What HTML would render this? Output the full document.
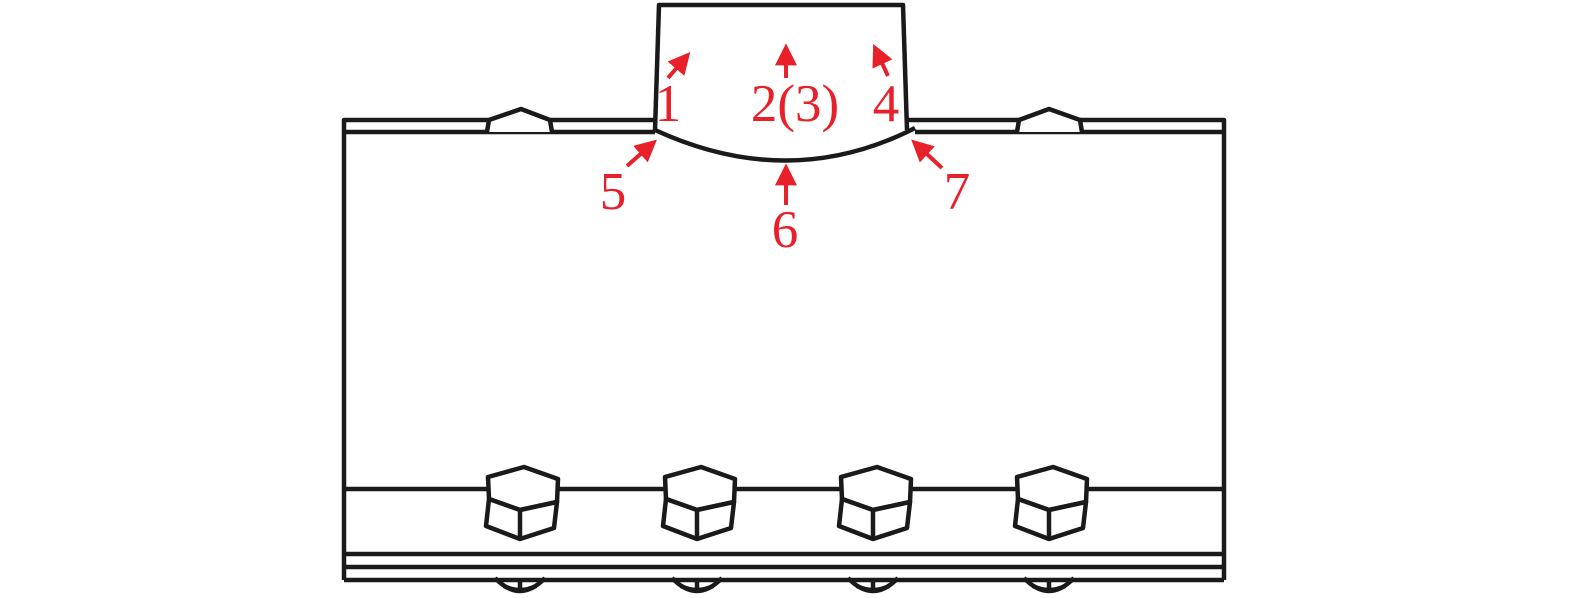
<!DOCTYPE html>
<html><head><meta charset="utf-8"><style>
html,body{margin:0;padding:0;background:#fff;}
svg{display:block;}
text{font-family:"Liberation Serif",serif;fill:#e8202a;font-size:53px;text-anchor:middle;}
</style></head><body>
<svg width="1575" height="598" viewBox="0 0 1575 598" xmlns="http://www.w3.org/2000/svg">
<defs>
<marker id="ah" viewBox="0 0 10 10" refX="7" refY="5" markerWidth="5.5" markerHeight="5.5" orient="auto" markerUnits="strokeWidth">
<path d="M0,0 L10,5 L0,10 z" fill="#e8202a"/></marker>
<g id="bolt" fill="#fff" stroke="#1a1a1a" stroke-width="4.5" stroke-linejoin="round">
<polygon points="-32,-43 4,-53 38,-41 37,-18 0,-10 -31,-21"/>
<polygon points="-31,-21 0,-10 37,-18 34,8 0,19 -34,6"/>
<line x1="0" y1="-10" x2="0" y2="19"/>
</g>
<g id="nut" fill="none" stroke="#1a1a1a" stroke-width="4.5">
<path d="M-25,578 Q0,604 25,578"/>
<path d="M-16,586 Q0,594 16,586"/>
<line x1="0" y1="578" x2="0" y2="592"/>
</g>
</defs>
<g fill="none" stroke="#1a1a1a" stroke-width="4.5" stroke-linejoin="round">
<polyline points="344,580 344,120 655,120"/>
<line x1="344" y1="132" x2="655" y2="132"/>
<polyline points="907,120 1224,120 1224,580"/>
<line x1="915" y1="132" x2="1224" y2="132"/>
<polyline points="487,132 489,120 521,109 550,120 552,132" fill="#fff"/>
<polyline points="1017,132 1019,120 1049,109 1080,120 1082,132" fill="#fff"/>
<path d="M655,130 L659,5 L903,5 L907,130" fill="#fff"/>
<path d="M655,130 Q785,190 907,132 L915,128"/>
<line x1="344" y1="489" x2="1224" y2="489"/>
<line x1="344" y1="554" x2="1224" y2="554"/>
<line x1="344" y1="567" x2="1224" y2="567"/>
<line x1="344" y1="580" x2="1224" y2="580"/>
</g>
<use href="#nut" x="520"/><use href="#nut" x="697"/><use href="#nut" x="873"/><use href="#nut" x="1049"/>
<use href="#bolt" x="520" y="520"/><use href="#bolt" x="697" y="520"/><use href="#bolt" x="873" y="520"/><use href="#bolt" x="1049" y="520"/>
<g stroke="#e8202a" stroke-width="4" marker-end="url(#ah)">
<line x1="668" y1="78" x2="686" y2="57"/>
<line x1="786" y1="78" x2="786" y2="50"/>
<line x1="888" y1="76" x2="876" y2="50"/>
<line x1="627" y1="166" x2="652" y2="144"/>
<line x1="786" y1="205" x2="786" y2="170"/>
<line x1="942" y1="168" x2="916" y2="144"/>
</g>
<text x="668" y="121">1</text>
<text x="795" y="121">2(3)</text>
<text x="886" y="121">4</text>
<text x="613" y="209">5</text>
<text x="785" y="247">6</text>
<text x="957" y="209">7</text>
</svg>
</body></html>
